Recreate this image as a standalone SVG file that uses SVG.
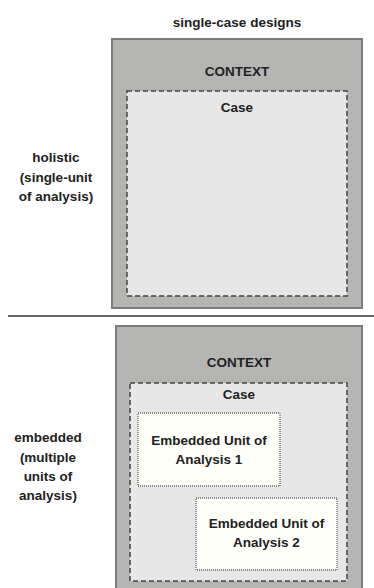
<svg xmlns="http://www.w3.org/2000/svg" width="374" height="588" viewBox="0 0 374 588">
  <style>
    text { font-family: "Liberation Sans", Arial, sans-serif; font-weight: bold; fill: #222; text-anchor: middle; }
    .lbl { font-size: 13.5px; }
    .ctx { fill: #b5b6b3; stroke: #7c7c7c; stroke-width: 2; }
    .case { fill: #e7e7e7; stroke: #444; stroke-width: 1.5; stroke-dasharray: 5 3; }
    .unit { fill: #fffffa; stroke: #666; stroke-width: 1.3; stroke-dasharray: 1 1; }
  </style>
  <rect width="374" height="588" fill="#ffffff"/>

  <g id="title">
    <text class="lbl" x="237" y="27">single-case designs</text>
  </g>

  <!-- holistic design -->
  <g id="holistic-label">
    <text class="lbl" x="56" y="162">holistic</text>
    <text class="lbl" x="56" y="182">(single-unit</text>
    <text class="lbl" x="56" y="201">of analysis)</text>
  </g>
  <g id="holistic-context">
    <rect class="ctx" x="112" y="39" width="250" height="269"/>
    <text class="lbl" x="237" y="76">CONTEXT</text>
  </g>
  <g id="holistic-case">
    <rect class="case" x="127" y="91" width="220" height="205"/>
    <text class="lbl" x="237" y="112">Case</text>
  </g>

  <g id="divider">
    <line x1="8" y1="316" x2="374" y2="316" stroke="#333" stroke-width="1.5"/>
  </g>

  <!-- embedded design -->
  <g id="embedded-label">
    <text class="lbl" x="48" y="442">embedded</text>
    <text class="lbl" x="48" y="462">(multiple</text>
    <text class="lbl" x="48" y="481">units of</text>
    <text class="lbl" x="48" y="500">analysis)</text>
  </g>
  <g id="embedded-context">
    <rect class="ctx" x="116" y="326" width="246" height="270"/>
    <text class="lbl" x="239" y="367">CONTEXT</text>
  </g>
  <g id="embedded-case">
    <rect class="case" x="130" y="383" width="217" height="198"/>
    <text class="lbl" x="239" y="399">Case</text>
  </g>
  <g id="unit-1">
    <rect class="unit" x="138" y="413" width="142" height="73"/>
    <text class="lbl" x="209" y="445">Embedded Unit of</text>
    <text class="lbl" x="209" y="464">Analysis 1</text>
  </g>
  <g id="unit-2">
    <rect class="unit" x="196" y="498" width="141" height="72"/>
    <text class="lbl" x="266.5" y="528">Embedded Unit of</text>
    <text class="lbl" x="266.5" y="547">Analysis 2</text>
  </g>
</svg>
